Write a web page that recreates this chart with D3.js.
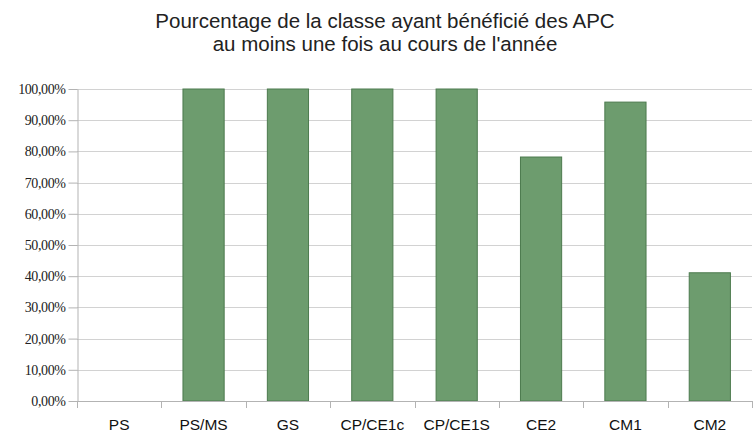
<!DOCTYPE html>
<html>
<head>
<meta charset="utf-8">
<script src="https://cdn.jsdelivr.net/npm/d3@7"></script>
<style>
  body { margin: 0; background: #fff; }
  svg { display: block; }
</style>
</head>
<body>
<div id="chart"></div>
<script>
// data
const categories = ['PS', 'PS/MS', 'GS', 'CP/CE1c', 'CP/CE1S', 'CE2', 'CM1', 'CM2'];
const values = [0, 100, 100, 100, 100, 78.2, 95.8, 41.1];
const yTicks = [0, 10, 20, 30, 40, 50, 60, 70, 80, 90, 100];
const titleLines = ['Pourcentage de la classe ayant bénéficié des APC', 'au moins une fois au cours de l\'année'];

const width = 755, height = 433;
const margin = {left: 77, right: 3, top: 89, bottom: 32};

const svg = d3.select('#chart').append('svg')
  .attr('width', width)
  .attr('height', height);

const x = d3.scaleBand()
  .domain(categories)
  .range([margin.left, width - margin.right])
  .paddingInner(0.5)
  .paddingOuter(0.25);

const xBound = d3.scaleLinear()
  .domain([0, categories.length])
  .range([margin.left, width - margin.right]);

const y = d3.scaleLinear()
  .domain([0, 100])
  .range([height - margin.bottom, margin.top]);

const fmt = v => d3.format('.2f')(v).replace('.', ',') + '%';

// gridlines
svg.append('g')
  .selectAll('line')
  .data(yTicks)
  .join('line')
  .attr('x1', margin.left)
  .attr('x2', width - margin.right)
  .attr('y1', d => Math.round(y(d)) + 0.5)
  .attr('y2', d => Math.round(y(d)) + 0.5)
  .attr('stroke', '#d2d2d2');

// y axis
const yAxis = svg.append('g')
  .attr('transform', `translate(${margin.left + 0.5},0)`)
  .call(d3.axisLeft(y).tickValues(yTicks).tickFormat(fmt).tickSize(9).tickPadding(3).tickSizeOuter(0));
yAxis.select('.domain').attr('stroke', '#b3b3b3');
yAxis.selectAll('.tick line').attr('stroke', '#b3b3b3');
yAxis.selectAll('text')
  .attr('font-family', '"Liberation Serif", "DejaVu Serif", serif')
  .attr('font-size', 14)
  .attr('letter-spacing', -0.4)
  .attr('fill', '#222');

// bars
svg.append('g')
  .selectAll('rect')
  .data(values)
  .join('rect')
  .attr('x', (d, i) => x(categories[i]) + 0.5)
  .attr('y', d => y(d))
  .attr('width', x.bandwidth() - 1)
  .attr('height', d => y(0) - y(d))
  .attr('fill', d => d > 0 ? '#6d9c6e' : 'none')
  .attr('stroke', d => d > 0 ? '#4c7a4e' : 'none')
  .attr('stroke-width', 1);

// x axis
const xAxisG = svg.append('g');
xAxisG.append('line')
  .attr('x1', margin.left)
  .attr('x2', width - margin.right)
  .attr('y1', Math.round(y(0)) + 0.5)
  .attr('y2', Math.round(y(0)) + 0.5)
  .attr('stroke', '#b3b3b3');
xAxisG.selectAll('line.tk')
  .data(d3.range(categories.length + 1))
  .join('line')
  .attr('class', 'tk')
  .attr('x1', d => Math.round(xBound(d)) + 0.5)
  .attr('x2', d => Math.round(xBound(d)) + 0.5)
  .attr('y1', Math.round(y(0)))
  .attr('y2', Math.round(y(0)) + 7)
  .attr('stroke', '#b3b3b3');
xAxisG.selectAll('text')
  .data(categories)
  .join('text')
  .attr('x', d => x(d) + x.bandwidth() / 2)
  .attr('y', 430)
  .attr('text-anchor', 'middle')
  .attr('font-family', '"Liberation Sans", Arial, sans-serif')
  .attr('font-size', 15.5)
  .attr('fill', '#111')
  .text(d => d);

// title
svg.append('g')
  .selectAll('text')
  .data(titleLines)
  .join('text')
  .attr('x', 385)
  .attr('y', (d, i) => 28 + i * 23)
  .attr('text-anchor', 'middle')
  .attr('font-family', '"Liberation Sans", Arial, sans-serif')
  .attr('font-size', 20.5)
  .attr('fill', '#222')
  .text(d => d);
</script>
</body>
</html>
